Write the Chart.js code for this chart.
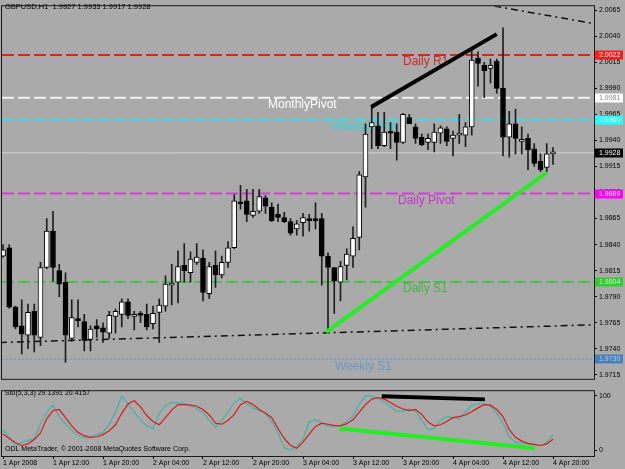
<!DOCTYPE html>
<html>
<head>
<meta charset="utf-8">
<script src="https://cdn.jsdelivr.net/npm/chart.js@4.4.0/dist/chart.umd.min.js"></script>
<style>
  html, body { margin: 0; padding: 0; background: #aaaaaa; }
  #wrap { position: relative; width: 625px; height: 469px; overflow: hidden; background: #aaaaaa; }
  canvas { position: absolute; left: 0; }
  #priceChart { top: 0; }
  #stochChart { top: 385px; }
</style>
</head>
<body>
<div id="wrap">
  <canvas id="priceChart" width="625" height="385"></canvas>
  <canvas id="stochChart" width="625" height="84"></canvas>
</div>
<script>
// GBPUSD H1, bars from 1 Apr 2008 04:00 to 4 Apr 2008 20:00
var opens = [1.9829, 1.9837, 1.9780, 1.9762, 1.9753, 1.9776, 1.9751, 1.9818, 1.9853, 1.9815,
  1.9804, 1.9750, 1.9769, 1.9766, 1.9749, 1.9762, 1.9760, 1.9755, 1.9771, 1.9773,
  1.9785, 1.9771, 1.9773, 1.9773, 1.9764, 1.9775, 1.9781, 1.9801, 1.9804, 1.9820,
  1.9813, 1.9823, 1.9827, 1.9793, 1.9820, 1.9811, 1.9823, 1.9837, 1.9881, 1.9882,
  1.9868, 1.9872, 1.9885, 1.9876, 1.9869, 1.9866, 1.9862, 1.9855, 1.9861, 1.9864,
  1.9864, 1.9865, 1.9829, 1.9818, 1.9804, 1.9820, 1.9829, 1.9847, 1.9905, 1.9953,
  1.9954, 1.9935, 1.9948, 1.9948, 1.9938, 1.9962, 1.9953, 1.9943, 1.9938, 1.9938,
  1.9947, 1.9951, 1.9942, 1.9945, 1.9945, 1.9953, 2.0019, 2.0012, 2.0009, 2.0016,
  1.9990, 1.9943, 1.9956, 1.9939, 1.9942, 1.9932, 1.9920, 1.9914, 1.9927];
var highs = [1.9840, 1.9840, 1.9781, 1.9787, 1.9783, 1.9783, 1.9823, 1.9865, 1.9872, 1.9821,
  1.9813, 1.9787, 1.9787, 1.9773, 1.9762, 1.9768, 1.9765, 1.9776, 1.9778, 1.9788,
  1.9788, 1.9776, 1.9776, 1.9783, 1.9781, 1.9788, 1.9810, 1.9821, 1.9834, 1.9841,
  1.9833, 1.9841, 1.9835, 1.9823, 1.9834, 1.9829, 1.9843, 1.9888, 1.9897, 1.9893,
  1.9893, 1.9893, 1.9887, 1.9880, 1.9879, 1.9871, 1.9865, 1.9863, 1.9870, 1.9869,
  1.9880, 1.9870, 1.9832, 1.9818, 1.9824, 1.9836, 1.9857, 1.9910, 1.9956, 1.9972,
  1.9967, 1.9967, 1.9957, 1.9956, 1.9966, 1.9965, 1.9956, 1.9946, 1.9946, 1.9956,
  1.9954, 1.9953, 1.9949, 1.9965, 1.9957, 2.0028, 2.0025, 2.0015, 2.0018, 2.0018,
  2.0048, 1.9968, 1.9970, 1.9953, 1.9946, 1.9937, 1.9927, 1.9937, 1.9933];
var lows = [1.9828, 1.9779, 1.9759, 1.9735, 1.9740, 1.9737, 1.9743, 1.9817, 1.9805, 1.9790,
  1.9727, 1.9747, 1.9761, 1.9738, 1.9738, 1.9751, 1.9746, 1.9750, 1.9755, 1.9761,
  1.9769, 1.9758, 1.9765, 1.9758, 1.9759, 1.9746, 1.9776, 1.9782, 1.9784, 1.9804,
  1.9804, 1.9821, 1.9786, 1.9788, 1.9799, 1.9808, 1.9818, 1.9836, 1.9874, 1.9862,
  1.9866, 1.9870, 1.9870, 1.9862, 1.9862, 1.9861, 1.9849, 1.9849, 1.9848, 1.9853,
  1.9855, 1.9801, 1.9756, 1.9774, 1.9786, 1.9806, 1.9818, 1.9835, 1.9876, 1.9932,
  1.9932, 1.9934, 1.9932, 1.9921, 1.9937, 1.9956, 1.9937, 1.9935, 1.9931, 1.9929,
  1.9937, 1.9935, 1.9925, 1.9937, 1.9934, 1.9945, 1.9992, 1.9981, 1.9995, 1.9985,
  1.9925, 1.9924, 1.9927, 1.9927, 1.9912, 1.9915, 1.9910, 1.9910, 1.9917];
var closes = [1.9835, 1.9780, 1.9761, 1.9754, 1.9775, 1.9753, 1.9818, 1.9853, 1.9818, 1.9802,
  1.9753, 1.9770, 1.9767, 1.9748, 1.9759, 1.9759, 1.9756, 1.9772, 1.9776, 1.9785,
  1.9772, 1.9773, 1.9772, 1.9761, 1.9774, 1.9782, 1.9802, 1.9803, 1.9819, 1.9815,
  1.9826, 1.9828, 1.9794, 1.9819, 1.9811, 1.9823, 1.9837, 1.9882, 1.9879, 1.9869,
  1.9872, 1.9886, 1.9877, 1.9863, 1.9866, 1.9862, 1.9851, 1.9860, 1.9866, 1.9863,
  1.9863, 1.9829, 1.9818, 1.9805, 1.9819, 1.9831, 1.9846, 1.9907, 1.9946, 1.9957,
  1.9935, 1.9948, 1.9947, 1.9938, 1.9965, 1.9956, 1.9942, 1.9936, 1.9942, 1.9948,
  1.9952, 1.9939, 1.9945, 1.9947, 1.9953, 2.0017, 2.0014, 2.0007, 2.0012, 1.9990,
  1.9943, 1.9956, 1.9942, 1.9941, 1.9931, 1.9918, 1.9912, 1.9927, 1.9928];

// Stochastic (5,3,3): main and signal
var stochMain = [38, 25, 8, 15, 18, 22, 48, 70, 83, 62,
  48, 37, 27, 23, 24, 29, 33, 48, 70, 100,
  86, 70, 56, 45, 40, 68, 83, 88, 87, 86,
  82, 77, 70, 55, 42, 55, 70, 88, 95, 85,
  78, 73, 69, 52, 32, 5, 0, 8, 20, 52,
  57, 50, 45, 43, 46, 53, 63, 85, 100, 100,
  95, 89, 80, 72, 72, 76, 72, 55, 38, 40,
  55, 62, 60, 58, 70, 83, 85, 86, 81, 68,
  50, 25, 15, 13, 12, 10, 9, 15, 29.1391];
var stochSignal = [30, 22, 14, 9, 12, 20, 32, 58, 73, 75,
  60, 45, 33, 27, 24, 25, 29, 36, 47, 68,
  85, 91, 80, 64, 53, 47, 60, 74, 84, 84,
  83, 81, 75, 65, 50, 48, 55, 66, 84, 90,
  84, 75, 68, 60, 40, 22, 9, 4, 15, 30,
  44, 50, 48, 46, 45, 49, 56, 70, 84, 94,
  97, 94, 88, 81, 76, 73, 75, 66, 52, 45,
  47, 53, 60, 62, 65, 71, 78, 84, 83, 75,
  62, 38, 24, 17, 13, 11, 9, 12, 20.4157];

// axis ticks
var priceTicks = [1.9715, 1.9740, 1.9765, 1.9790, 1.9815, 1.9840, 1.9865, 1.9890,
  1.9915, 1.9940, 1.9965, 1.9990, 2.0015, 2.0040, 2.0065];
var stochTicks = [0, 100];
var timeTickBars = [0, 8, 16, 24, 32, 40, 48, 56, 64, 72, 80, 88];
var timeLabels = ['1 Apr 2008', '1 Apr 12:00', '1 Apr 20:00', '2 Apr 04:00', '2 Apr 12:00', '2 Apr 20:00',
  '3 Apr 04:00', '3 Apr 12:00', '3 Apr 20:00', '4 Apr 04:00', '4 Apr 12:00', '4 Apr 20:00'];

// pivot levels
var levelNames = ['Daily R1', 'MonthlyPivot', 'WeeklyPivot', 'Daily Pivot', 'Daily S1', 'Weekly S1'];
var levelValues = [2.0022, 1.9981, 1.9960, 1.9889, 1.9804, 1.9730];
var bidPrice = 1.9928;

// hand drawn lines as [bar, value] pairs
var priceTopLine = [[58.9, 1.9972], [79.0, 2.0042]];
var priceBottomLine = [[51.7, 1.9756], [87.0, 1.9909]];
var lowChannel = [[-0.5, 1.9746], [94.6, 1.9763]];
var highChannel = [[78.6, 2.0069], [94.6, 2.0052]];
var stochTopLine = [[60.6, 99.5], [77.1, 93.6]];
var stochBottomLine = [[53.8, 40.2], [85.1, 4.0]];

// look of each level (line, label text, price box)
var levelStyle = [
  { line: '#e42020', width: 2, dash: [12, 4], text: '#d42828', box: '#ff1a1a', boxText: '#ffffff', labelBar: 64 },
  { line: '#f4f4f4', width: 2, dash: [12, 4], text: '#ffffff', box: '#ffffff', boxText: '#8a8a8a', labelBar: 42.4 },
  { line: '#30e4e4', width: 2, dash: [12, 4], text: '#30dada', box: '#22ffff', boxText: '#e8ffff', labelBar: 52.6 },
  { line: '#d040d0', width: 2, dash: [12, 4], text: '#d030d0', box: '#ff00ff', boxText: '#ffe0ff', labelBar: 63.2 },
  { line: '#50bb50', width: 2, dash: [12, 4], text: '#45b845', box: '#30cc30', boxText: '#c8f0c8', labelBar: 64 },
  { line: '#6f9fcf', width: 1.5, dash: [2, 2], text: '#6b98c8', box: '#4a80b8', boxText: '#b8cce0', labelBar: 53.1 }
];

var xMin = -0.16, xMax = 94.56;
var font7 = { family: '"Liberation Sans", Arial, sans-serif', size: 7 };

function segment(pts, color, width, dash, order) {
  return {
    type: 'line',
    data: pts.map(function (p) { return { x: p[0], y: p[1] }; }),
    borderColor: color,
    borderWidth: width,
    borderDash: dash || [],
    borderCapStyle: 'butt',
    pointRadius: 0,
    order: order
  };
}

var bars = opens.map(function (o, i) { return i; });
var bodyColors = bars.map(function (i) { return closes[i] >= opens[i] ? '#ffffff' : '#000000'; });

var priceSets = [];
levelValues.forEach(function (v, i) {
  var st = levelStyle[i];
  priceSets.push(segment([[xMin, v], [xMax, v]], st.line, st.width, st.dash, 4));
});
priceSets.push(segment([[xMin, bidPrice], [xMax, bidPrice]], '#d4d4d4', 1, [], 4));
priceSets.push(segment(lowChannel, '#111111', 1.5, [7, 4, 2, 4], 3));
priceSets.push(segment(highChannel, '#111111', 1.5, [7, 4, 2, 4], 3));
priceSets.push({
  type: 'bar',
  data: bars.map(function (i) { return { x: i, y: [lows[i], highs[i]] }; }),
  backgroundColor: '#1e1e1e',
  borderWidth: 0,
  barThickness: 1,
  grouped: false,
  order: 2
});
priceSets.push({
  type: 'bar',
  data: bars.map(function (i) { return { x: i, y: [opens[i], closes[i]] }; }),
  backgroundColor: bodyColors,
  borderColor: '#000000',
  borderWidth: 1,
  borderSkipped: false,
  barThickness: 5,
  minBarLength: 2,
  grouped: false,
  order: 1
});
priceSets.push(segment(priceTopLine, '#000000', 4, [], 0));
priceSets.push(segment(priceBottomLine, '#22ee22', 4, [], 0));

var priceDecor = {
  id: 'priceDecor',
  beforeDatasetsDraw: function (chart) {
    var ctx = chart.ctx, xs = chart.scales.x, ys = chart.scales.y;
    ctx.save();
    ctx.font = '12px "Liberation Sans", Arial, sans-serif';
    ctx.textBaseline = 'top';
    levelNames.forEach(function (name, i) {
      ctx.fillStyle = levelStyle[i].text;
      ctx.fillText(name, xs.getPixelForValue(levelStyle[i].labelBar), ys.getPixelForValue(levelValues[i]) + 1);
    });
    ctx.restore();
  },
  afterDraw: function (chart) {
    var ctx = chart.ctx, ys = chart.scales.y, ca = chart.chartArea;
    ctx.save();
    ctx.font = '7px "Liberation Sans", Arial, sans-serif';
    ctx.textBaseline = 'middle';
    var boxes = levelValues.map(function (v, i) {
      return { v: v, bg: levelStyle[i].box, fg: levelStyle[i].boxText };
    });
    boxes.push({ v: bidPrice, bg: '#000000', fg: '#ffffff' });
    boxes.forEach(function (b) {
      var y = Math.round(ys.getPixelForValue(b.v));
      ctx.fillStyle = b.bg;
      ctx.fillRect(ca.right + 1, y - 4.5, 28, 9);
      ctx.fillStyle = b.fg;
      ctx.fillText(b.v.toFixed(4), ca.right + 5, y + 0.5);
    });
    var last = opens.length - 1;
    ctx.font = '7.5px "Liberation Sans", Arial, sans-serif';
    ctx.textBaseline = 'top';
    ctx.fillStyle = '#000000';
    ctx.fillText('GBPUSD,H1  ' + [opens[last], highs[last], lows[last], closes[last]].map(function (v) {
      return v.toFixed(4);
    }).join(' '), 5, 3);
    ctx.strokeStyle = '#1a1a1a';
    ctx.lineWidth = 1;
    ctx.strokeRect(ca.left - 0.5, ca.top - 0.5, ca.right - ca.left + 1, ca.bottom - ca.top + 1);
    ctx.restore();
  }
};

new Chart(document.getElementById('priceChart').getContext('2d'), {
  type: 'bar',
  data: { datasets: priceSets },
  options: {
    responsive: false,
    animation: false,
    events: [],
    layout: { padding: { left: 2, top: 3, right: 0, bottom: 2 } },
    plugins: { legend: { display: false }, tooltip: { enabled: false } },
    scales: {
      x: { type: 'linear', min: xMin, max: xMax, offset: false, display: false },
      y: {
        type: 'linear',
        position: 'right',
        min: 1.97112,
        max: 2.00688,
        beginAtZero: false,
        afterFit: function (axis) { axis.width = 31; },
        afterBuildTicks: function (axis) {
          axis.ticks = priceTicks.map(function (v) { return { value: v }; });
        },
        grid: { drawOnChartArea: false, tickLength: 3, color: '#000000' },
        border: { color: '#1a1a1a' },
        ticks: {
          font: font7,
          color: '#000000',
          padding: 2,
          callback: function (v) { return Number(v).toFixed(4); }
        }
      }
    }
  },
  plugins: [priceDecor]
});

var stochDecor = {
  id: 'stochDecor',
  afterDraw: function (chart) {
    var ctx = chart.ctx, ca = chart.chartArea;
    var last = stochMain.length - 1;
    ctx.save();
    ctx.font = '7px "Liberation Sans", Arial, sans-serif';
    ctx.textBaseline = 'top';
    ctx.fillStyle = '#000000';
    ctx.fillText('Sto(5,3,3) ' + stochMain[last].toFixed(4) + ' ' + stochSignal[last].toFixed(4), 5, 5);
    ctx.fillText('ODL MetaTrader, \u00a9 2001-2008 MetaQuotes Software Corp.', 5, 61);
    ctx.strokeStyle = '#1a1a1a';
    ctx.lineWidth = 1;
    ctx.strokeRect(ca.left - 0.5, ca.top - 0.5, ca.right - ca.left + 1, ca.bottom - ca.top + 1);
    ctx.restore();
  }
};

new Chart(document.getElementById('stochChart').getContext('2d'), {
  type: 'line',
  data: {
    datasets: [
      segment(stochTopLine, '#000000', 4, [], 0),
      segment(stochBottomLine, '#22ee22', 4, [], 0),
      {
        data: bars.map(function (i) { return { x: i, y: stochMain[i] }; }),
        borderColor: '#3fb5ad',
        borderWidth: 1.2,
        pointRadius: 0,
        order: 2
      },
      {
        data: bars.map(function (i) { return { x: i, y: stochSignal[i] }; }),
        borderColor: '#e01818',
        borderWidth: 1.2,
        pointRadius: 0,
        order: 1
      }
    ]
  },
  options: {
    responsive: false,
    animation: false,
    events: [],
    layout: { padding: { left: 2, top: 2, right: 0, bottom: 0 } },
    plugins: { legend: { display: false }, tooltip: { enabled: false } },
    scales: {
      x: {
        type: 'linear',
        min: xMin,
        max: xMax,
        afterFit: function (axis) { axis.height = 13; },
        afterBuildTicks: function (axis) {
          axis.ticks = timeTickBars.map(function (v) { return { value: v }; });
        },
        grid: { drawOnChartArea: false, tickLength: 3, color: '#000000' },
        border: { color: '#1a1a1a' },
        ticks: {
          font: font7,
          color: '#000000',
          padding: 0,
          align: 'start',
          maxRotation: 0,
          autoSkip: false,
          callback: function (v) { return timeLabels[timeTickBars.indexOf(v)]; }
        }
      },
      y: {
        type: 'linear',
        position: 'right',
        min: -10.3,
        max: 108.6,
        afterFit: function (axis) { axis.width = 31; },
        afterBuildTicks: function (axis) {
          axis.ticks = stochTicks.map(function (v) { return { value: v }; });
        },
        grid: { drawOnChartArea: false, tickLength: 3, color: '#000000' },
        border: { color: '#1a1a1a' },
        ticks: { font: font7, color: '#000000', padding: 2 }
      }
    }
  },
  plugins: [stochDecor]
});
</script>
</body>
</html>
